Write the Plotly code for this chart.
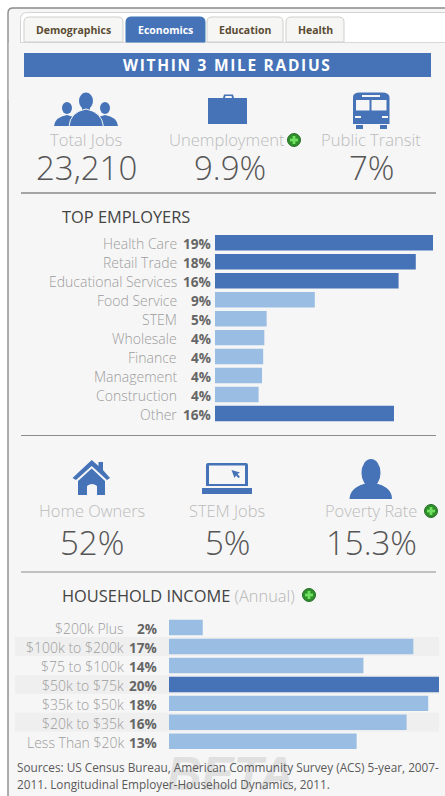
import plotly.graph_objects as go

W, H = 445, 796
employers = ["Health Care", "Retail Trade", "Educational Services", "Food Service", "STEM",
             "Wholesale", "Finance", "Management", "Construction", "Other"]
employer_values = [19.0, 17.5, 16.0, 8.7, 4.5, 4.3, 4.2, 4.1, 3.8, 15.6]
employer_labels = ["19%", "18%", "16%", "9%", "5%", "4%", "4%", "4%", "4%", "16%"]

incomes = ["$200k Plus", "$100k to $200k", "$75 to $100k", "$50k to $75k",
           "$35k to $50k", "$20k to $35k", "Less Than $20k"]
income_values = [2.5, 18.1, 14.4, 20.0, 19.2, 17.6, 13.9]
income_labels = ["2%", "17%", "14%", "20%", "18%", "16%", "13%"]

top_stats = [("Total Jobs", "23,210"), ("Unemployment", "9.9%"), ("Public Transit", "7%")]
mid_stats = [("Home Owners", "52%"), ("STEM Jobs", "5%"), ("Poverty Rate", "15.3%")]
tabs = ["Demographics", "Economics", "Education", "Health"]

BLUE = "#4673b8"
LIGHT = "#9abde3"
FONT = "Open Sans"


def px(x):
    return x / W


def py(y):
    return 1 - y / H


shapes, annots = [], []


def rect(x0, y0, x1, y1, fill, line=None, layer="above", lw=1):
    shapes.append(dict(type="rect", xref="paper", yref="paper", x0=px(x0), x1=px(x1), y0=py(y0), y1=py(y1),
                       fillcolor=fill, line=dict(color=line or fill, width=lw if line else 0), layer=layer))


def path(pts, fill, layer="above", line=None, lw=0):
    out = []
    for c in pts:
        if isinstance(c, str):
            out.append(c)
        else:
            out.append(f"{px(c[0]):.5f},{py(c[1]):.5f}")
    shapes.append(dict(type="path", xref="paper", yref="paper", path=" ".join(out), fillcolor=fill,
                       line=dict(color=line or fill, width=lw), layer=layer))


def ell(cx, cy, rx, ry, fill, line=None, lw=0):
    shapes.append(dict(type="circle", xref="paper", yref="paper", x0=px(cx - rx), x1=px(cx + rx),
                       y0=py(cy - ry), y1=py(cy + ry), fillcolor=fill,
                       line=dict(color=line or fill, width=lw), layer="above"))


def text(x, y, s, size, color, anchor="center", weight=400, family=FONT, italic=False):
    annots.append(dict(xref="paper", yref="paper", x=px(x), y=py(y), text=s, showarrow=False,
                       xanchor=anchor, yanchor="middle", align=anchor if anchor != "center" else "center",
                       borderpad=0, borderwidth=0,
                       font=dict(size=size, color=color, family=family, weight=weight,
                                 style="italic" if italic else "normal")))


def plus(x, y):
    ell(x, y, 6.5, 6.5, "#2f8f2a", "#2b6b2b", 1)
    rect(x - 4, y - 1.4, x + 4, y + 1.4, "#6fe060")
    rect(x - 1.4, y - 4, x + 1.4, y + 4, "#6fe060")


def rrect(x0, y0, x1, y1, r, fill, line=None, lw=0, layer="below"):
    cmds = ["M", (x0, y1), "L", (x0, y0 + r), "Q", (x0, y0), (x0 + r, y0), "L", (x1 - r, y0),
            "Q", (x1, y0), (x1, y0 + r), "L", (x1, y1), "Z"]
    path(cmds, fill, layer=layer, line=line, lw=lw)


# --- page panel
rrect(8, 8, 470, 830, 5, "#f6f6f6", "#8a8a8a", 1.4)
rrect(20.5, 12.5, 460, 60, 7, "#ffffff", "#d4d4d4", 1)
rect(21, 42, 445, 43, "#d8d8d8", layer="below")
rect(8.8, 43, 445, 100, "#f6f6f6", layer="below")

tab_boxes = [(24, 123), (126, 205), (207, 283), (286, 344)]
for name, (a, b) in zip(tabs, tab_boxes):
    active = name == "Economics"
    rrect(a, 17, b, 42, 5, BLUE if active else "#f6f6f4", "#3f77b8" if active else "#cfcfcf", 1)
    text((a + b) / 2, 30, f"<b>{name}</b>", 10.5, "#ffffff" if active else "#5a4b33")

rect(24, 53, 431, 77, BLUE, layer="below")
text(227, 65, '<span style="letter-spacing:1.7px"><b>WITHIN 3 MILE RADIUS</b></span>', 15.5, "#ffffff")

# --- stat rows
for (lab, val), cx in zip(top_stats, (86, 227, 371)):
    text(cx, 139, lab, 16.6, "#bbbbbb", weight=300)
for (lab, val), cx in zip(top_stats, (86, 230, 371)):
    text(cx, 167.5, val, 33, "#555555", weight=300)
plus(294, 140)
for (lab, val), cx in zip(mid_stats, (91.5, 227, 371)):
    text(cx, 510.5, lab, 16.4, "#bbbbbb", weight=300)
    text(cx, 542.5, val, 33, "#555555", weight=300)
plus(431, 511)

# rules
for y, c in ((193, "#555555"), (435.5, "#8c8c8c"), (572, "#8c8c8c")):
    rect(21, y - 0.5, 436, y + 0.5, c, layer="below")

text(62, 216.5, "TOP EMPLOYERS", 16.4, "#444444", "left")
text(62, 595, 'HOUSEHOLD INCOME <span style="color:#b5b5b5;font-weight:300">(Annual)</span>', 16.4, "#444444", "left")
plus(309, 595)

# --- icons
for cx, cy, r, bx0, bx1, by in ((67, 108, 5, 54, 79, 126), (105, 108, 5, 93, 118, 126)):
    ell(cx, cy, r, r + 1, BLUE)
    path(["M", (bx0, by), "Q", (bx0 + 1, by - 9), (cx, by - 11), "Q", (bx1 - 1, by - 9), (bx1, by), "Z"], BLUE)
ell(86, 101, 7, 8.5, BLUE)
rect(82, 105, 90, 112, BLUE)
path(["M", (69, 126.5), "Q", (70, 112), (86, 109), "Q", (102, 112), (103.5, 126.5), "Z"], BLUE, line="#f6f6f6", lw=1)
# briefcase
path(["M", (223, 98), "L", (224, 94.5), "L", (233, 94.5), "L", (234, 98), "L", (232, 98), "L", (231.5, 96),
      "L", (225.5, 96), "L", (225, 98), "Z"], BLUE)
rect(208, 98, 247, 124, BLUE)
# bus
path(["M", (353, 97), "Q", (353, 92.5), (360, 92.5), "L", (382, 92.5), "Q", (389, 92.5), (389.5, 97),
      "L", (389.5, 124), "L", (353, 124), "Z"], BLUE)
rect(356, 125, 363, 129, BLUE)
rect(380, 125, 387, 129, BLUE)
rect(356, 100, 369.5, 110.5, "#f6f6f6")
rect(371.5, 100, 386.5, 110.5, "#f6f6f6")
rect(362, 95, 380, 97, "#f6f6f6")
rect(355, 116, 361, 118, "#f6f6f6")
rect(382, 116, 388, 118, "#f6f6f6")
# house
path(["M", (72.5, 478), "L", (91.7, 460), "L", (98.5, 466), "L", (98.5, 462), "L", (103, 462), "L", (103, 470),
      "L", (110, 478), "L", (107, 480), "L", (91.7, 466), "L", (76, 480), "Z"], BLUE)
path(["M", (78, 495), "L", (78, 481), "L", (91.7, 468.5), "L", (105, 481), "L", (105, 495), "L", (97, 495),
      "L", (97, 486), "Q", (92, 482), (87, 486), "L", (87, 495), "Z"], BLUE)
# laptop
rrect(206, 463, 248, 486, 2, BLUE, layer="above")
rect(209, 465.5, 245, 484, "#f6f6f6")
rect(202, 488, 252, 494, BLUE)
path(["M", (231.5, 470), "L", (240, 472.5), "L", (237.5, 474), "L", (240, 477), "L", (238.5, 478), "L", (236, 475.5),
      "L", (234.5, 478), "Z"], BLUE)
# person
ell(371, 473, 9.5, 14, BLUE)
path(["M", (349.5, 499), "Q", (350, 488), (364, 484), "L", (378, 484), "Q", (392, 488), (392, 499), "Z"], BLUE)

# --- stripes & watermark
for row in (1, 3, 5):
    yc = 627.5 + 18.97 * row
    rect(15, yc - 9.5, 439, yc + 9.5, "#efefef", layer="below")
text(230, 773, "<b>BETA</b>", 48, "#e0e0e0", family="Arial, Liberation Sans", italic=True)

text(17, 767, "Sources: US Census Bureau, American Community Survey (ACS) 5-year, 2007-", 11.8, "#5a5a5a", "left")
text(17, 784, "2011. Longitudinal Employer-Household Dynamics, 2011.", 11.8, "#5a5a5a", "left")

# --- charts
emp_colors = [BLUE if l in ("19%", "18%", "16%") else LIGHT for l in employer_labels]
inc_colors = [BLUE if v == max(income_values) else LIGHT for v in income_values]

fig = go.Figure()
fig.add_bar(x=employer_values, y=employers, orientation="h", marker=dict(color=emp_colors, line_width=0),
            xaxis="x", yaxis="y", hoverinfo="skip")
fig.add_bar(x=income_values, y=incomes, orientation="h", marker=dict(color=inc_colors, line_width=0),
            xaxis="x2", yaxis="y2", hoverinfo="skip")

for names, labels, yref, xl, xv in ((employers, employer_labels, "y", 178.5, 212.5),
                                    (incomes, income_labels, "y2", 126, 159)):
    for n, l in zip(names, labels):
        annots.append(dict(xref="paper", yref=yref, x=px(xl), y=n, text=n, showarrow=False, xanchor="right",
                           yanchor="middle", yshift=-1,
                           font=dict(size=14, color="#9c9c9c", family=FONT, weight=300)))
        annots.append(dict(xref="paper", yref=yref, x=px(xv), y=n, text=f"<b>{l}</b>", showarrow=False,
                           xanchor="right", yanchor="middle", yshift=-1,
                           font=dict(size=13.6, color="#666666", family=FONT)))

fig.update_layout(
    width=W, height=H, margin=dict(l=0, r=0, t=0, b=0), showlegend=False,
    paper_bgcolor="#ffffff", plot_bgcolor="rgba(0,0,0,0)", bargap=3.5 / 19, dragmode=False,
    xaxis=dict(domain=[px(215), px(433)], range=[0, 19], visible=False, fixedrange=True),
    yaxis=dict(domain=[py(423), py(233.3)], categoryorder="array", categoryarray=employers,
               range=[len(employers) - 0.5, -0.5], autorange=False, visible=False, fixedrange=True, anchor="x"),
    xaxis2=dict(domain=[px(169), px(439)], range=[0, 20], visible=False, fixedrange=True, anchor="y2"),
    yaxis2=dict(domain=[py(750.8), py(618)], categoryorder="array", categoryarray=incomes,
                range=[len(incomes) - 0.5, -0.5], autorange=False, visible=False, fixedrange=True, anchor="x2"),
    shapes=shapes, annotations=annots,
)
fig.write_html("out.html", config=dict(displayModeBar=False, responsive=False),
               post_script="document.body.style.margin='0';document.body.style.overflow='hidden';")
